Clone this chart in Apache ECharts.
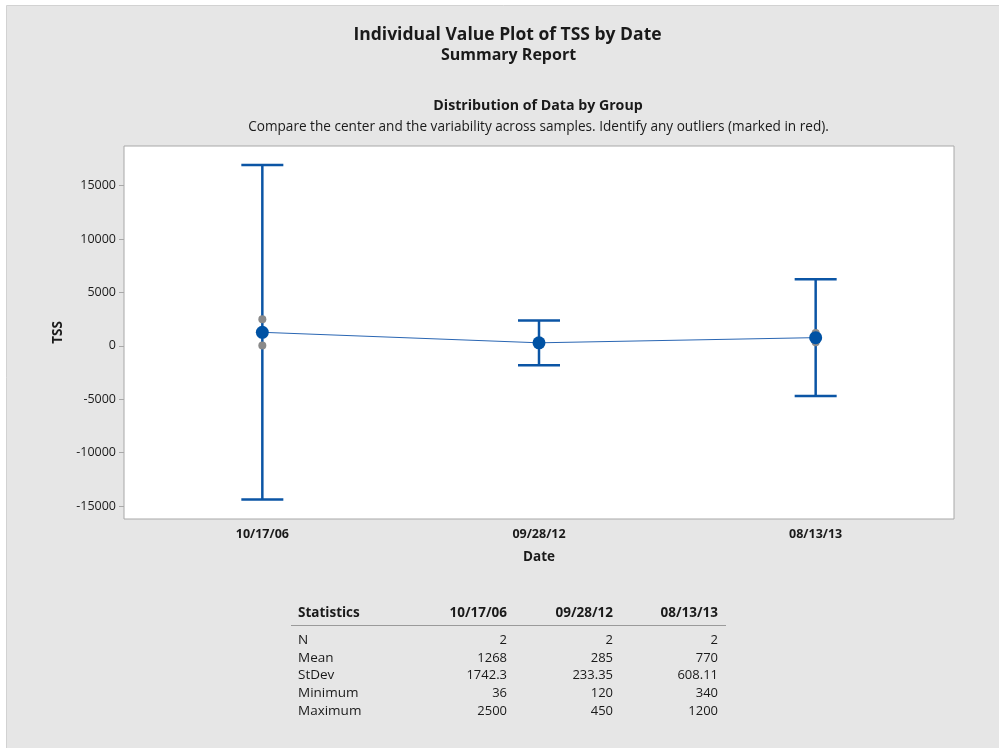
<!DOCTYPE html>
<html>
<head>
<meta charset="utf-8">
<script src="https://cdn.jsdelivr.net/npm/echarts@6/dist/echarts.min.js"></script>
<style>
html,body{margin:0;padding:0;background:#ffffff;}
#chart{width:999px;height:748px;}
</style>
</head>
<body>
<div id="chart"></div>
<script>
// ---- data ----
var categories = ['10/17/06', '09/28/12', '08/13/13'];
var means = [1268, 285, 770];
var ciUpper = [16920, 2380, 6235];
var ciLower = [-14385, -1810, -4695];
// individual observations: [category index, value]
var individualValues = [[0, 2500], [0, 36], [1, 120], [1, 450], [2, 340], [2, 1200]];
var yTicks = [-15000, -10000, -5000, 0, 5000, 10000, 15000];

// summary statistics table
var statNames = ['N', 'Mean', 'StDev', 'Minimum', 'Maximum'];
var statN = ['2', '2', '2'];
var statMean = ['1268', '285', '770'];
var statStDev = ['1742.3', '233.35', '608.11'];
var statMin = ['36', '120', '340'];
var statMax = ['2500', '450', '1200'];

var FONT = '"Open Sans", "Noto Sans", sans-serif';
var TXT = '#1a1a1a';
var BLUE = '#0b55a5';

var chart = echarts.init(document.getElementById('chart'), null, {renderer: 'canvas'});

var errData = categories.map(function (c, i) { return [i, ciLower[i], ciUpper[i]]; });

function txt(s, x, y, font, align) {
  return {type: 'text', x: x, y: y, style: {text: s, font: font, fill: TXT, align: align || 'center', verticalAlign: 'middle'}};
}

// title graphics
var titleGraphics = [
  txt('Individual Value Plot of TSS by Date', 507.5, 35, 'bold 17.5px ' + FONT),
  txt('Summary Report', 508.5, 55, 'bold 16px ' + FONT),
  txt('Distribution of Data by Group', 538, 106, 'bold 14.2px ' + FONT),
  txt('Compare the center and the variability across samples. Identify any outliers (marked in red).', 538.5, 127, '13.6px ' + FONT)
];

// table graphics
var tableGraphics = [];
var colRight = [507, 613, 718];
var headerY = 613;
tableGraphics.push(txt('Statistics', 298, headerY, 'bold 13.5px ' + FONT, 'left'));
categories.forEach(function (c, i) {
  tableGraphics.push(txt(c, colRight[i], headerY, 'bold 13.5px ' + FONT, 'right'));
});
tableGraphics.push({type: 'line', shape: {x1: 291, y1: 625.5, x2: 726, y2: 625.5}, style: {stroke: '#9a9a9a', lineWidth: 1}});
var rows = [statN, statMean, statStDev, statMin, statMax];
var rowY = [640.5, 658, 675.5, 693.5, 711.5];
statNames.forEach(function (n, r) {
  tableGraphics.push(txt(n, 298, rowY[r], '13.5px ' + FONT, 'left'));
  rows[r].forEach(function (v, i) {
    tableGraphics.push(txt(v, colRight[i], rowY[r], '13px ' + FONT, 'right'));
  });
});

var option = {
  animation: false,
  backgroundColor: '#ffffff',
  graphic: [
    {type: 'rect', z: -10, shape: {x: 6.5, y: 5.5, width: 1000, height: 800}, style: {fill: '#e6e6e6', stroke: '#d2d2d2', lineWidth: 1}}
  ].concat(titleGraphics).concat(tableGraphics),
  grid: {left: 124, top: 146, right: 45, bottom: 229, show: true, backgroundColor: '#ffffff', borderColor: '#a8a8a8', borderWidth: 1, containLabel: false},
  xAxis: {
    type: 'category',
    data: categories,
    boundaryGap: true,
    name: 'Date',
    nameLocation: 'middle',
    nameGap: 31,
    nameTextStyle: {fontFamily: FONT, fontSize: 13.5, fontWeight: 'bold', color: TXT},
    axisLine: {show: false},
    axisTick: {show: true, alignWithLabel: true, length: 5, lineStyle: {color: '#a8a8a8'}},
    axisLabel: {fontFamily: FONT, fontSize: 12.5, fontWeight: 'bold', color: TXT, margin: 9},
    splitLine: {show: false}
  },
  yAxis: {
    type: 'value',
    min: -16200,
    max: 18700,
    name: 'TSS',
    nameLocation: 'middle',
    nameGap: 59,
    nameRotate: 90,
    nameTextStyle: {fontFamily: FONT, fontSize: 13.5, fontWeight: 'bold', color: TXT},
    axisLine: {show: false},
    axisTick: {show: true, length: 5, lineStyle: {color: '#a8a8a8'}, customValues: yTicks},
    axisLabel: {fontFamily: FONT, fontSize: 12.5, color: TXT, margin: 8, customValues: yTicks,
      formatter: function (v) { return String(v); }},
    splitLine: {show: false}
  },
  series: [
    {
      type: 'line',
      data: means,
      symbol: 'none',
      lineStyle: {color: '#2a66b3', width: 1},
      z: 2
    },
    {
      type: 'custom',
      data: errData,
      z: 3,
      renderItem: function (params, api) {
        var x = api.value(0);
        var lo = api.coord([x, api.value(1)]);
        var hi = api.coord([x, api.value(2)]);
        var half = 21;
        var st = {stroke: BLUE, lineWidth: 2.5, fill: null};
        return {
          type: 'group',
          children: [
            {type: 'line', shape: {x1: lo[0], y1: lo[1], x2: hi[0], y2: hi[1]}, style: st},
            {type: 'line', shape: {x1: hi[0] - half, y1: hi[1], x2: hi[0] + half, y2: hi[1]}, style: st},
            {type: 'line', shape: {x1: lo[0] - half, y1: lo[1], x2: lo[0] + half, y2: lo[1]}, style: st}
          ]
        };
      }
    },
    {
      type: 'scatter',
      data: individualValues,
      symbolSize: 8,
      itemStyle: {color: '#8a8a8a', opacity: 1},
      z: 4
    },
    {
      type: 'scatter',
      data: means.map(function (m, i) { return [i, m]; }),
      symbolSize: 13,
      itemStyle: {color: '#0052a4', opacity: 1},
      z: 5
    }
  ]
};
chart.setOption(option);
</script>
</body>
</html>
